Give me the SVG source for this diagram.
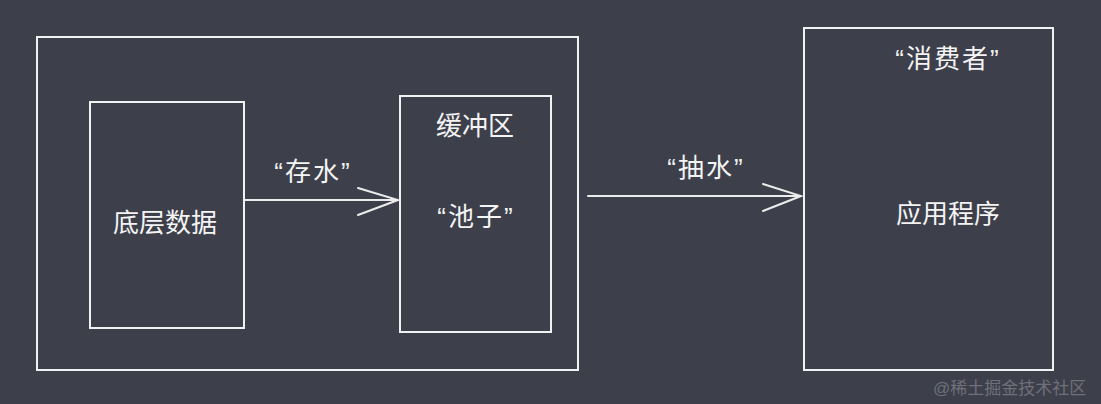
<svg xmlns="http://www.w3.org/2000/svg" width="1101" height="404" viewBox="0 0 1101 404">
<style>
.box{fill:none;stroke:#f2f2f2;stroke-width:2}
.edge{fill:none;stroke:#ececec;stroke-width:2;stroke-linecap:round}
.t{font-family:"Liberation Sans","Noto Sans CJK SC",sans-serif;fill:#f4f4f4;text-anchor:middle;dominant-baseline:central;font-size:26px}
.q{letter-spacing:2px}
.wm{font-family:"Liberation Sans","Noto Sans CJK SC",sans-serif;fill:#6f7079;font-size:17px}
</style>
<rect width="1101" height="404" fill="#3d3f4b"/>
<g id="outer"><rect class="box" x="37" y="37" width="541" height="333"/></g>
<g id="data"><rect class="box" x="90" y="102" width="154" height="226"/><text class="t" x="165" y="223">底层数据</text></g>
<g id="buffer"><rect class="box" x="400" y="96" width="151" height="236"/><text class="t" x="475" y="126">缓冲区</text><text class="t q" x="476" y="217">“池子”</text></g>
<g id="consumer"><rect class="box" x="804" y="28" width="249" height="342"/><text class="t q" x="948" y="59">“消费者”</text><text class="t" x="948" y="214">应用程序</text></g>
<g id="connectors">
<path class="edge" d="M245 200 H398 M358 188 L398 200 L358 215"/>
<text class="t q" x="313" y="172">“存水”</text>
<path class="edge" d="M588 196 H801 M763 184 L801 196 L763 211"/>
<text class="t q" x="706" y="168">“抽水”</text>
</g>
<text class="wm" x="933" y="394">@稀土掘金技术社区</text>
</svg>
